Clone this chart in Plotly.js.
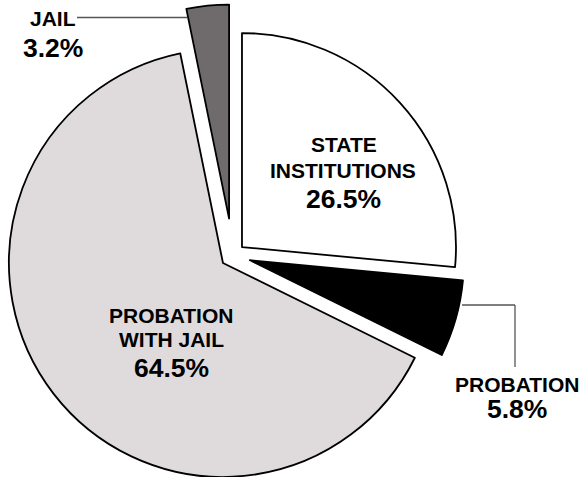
<!DOCTYPE html>
<html>
<head>
<meta charset="utf-8">
<script src="https://cdn.plot.ly/plotly-3.0.1.min.js"></script>
<style>
  html, body { margin: 0; padding: 0; overflow: hidden; background: #ffffff; width: 583px; height: 477px; }
  #chart { position: absolute; left: -20px; top: 0; width: 623px; height: 510px; }
</style>
</head>
<body>
<div id="chart"></div>
<script>
// ---- data ----
const categories = ["STATE INSTITUTIONS", "PROBATION", "PROBATION WITH JAIL", "JAIL"];
const shares = [26.5, 5.8, 64.5, 3.2];
const shareLabels = ["26.5%", "5.8%", "64.5%", "3.2%"];
const labelLines = [["STATE", "INSTITUTIONS"], ["PROBATION"], ["PROBATION", "WITH JAIL"], ["JAIL"]];
const sliceColors = ["#ffffff", "#000000", "#dfdbdc", "#6f6b6c"];
const pulls = [0.058, 0.083, 0.058, 0.173];

// ---- layout geometry (pixels in the plot div) ----
const OFFSET = 20;            // div is shifted left by this much
const W = 623, H = 510;
const CX = 232.8 + OFFSET, CY = 255.4, R = 214;
const maxPull = Math.max(...pulls);
const half = R * (1 + maxPull);
const px = x => (x + OFFSET) / W;
const py = y => 1 - y / H;

const FONT = "Liberation Sans, Arial, Helvetica, sans-serif";
const LABEL_SIZE = 21, PCT_SIZE = 26.5;

function ann(text, x, y, size) {
  return {
    text: "<b>" + text + "</b>", x: px(x), y: py(y), xref: "paper", yref: "paper",
    xanchor: "center", yanchor: "middle", showarrow: false,
    font: { family: FONT, size: size, color: "#000000" }
  };
}

const annotations = [
  ann(labelLines[0][0], 344, 144, LABEL_SIZE),
  ann(labelLines[0][1], 343, 170.5, LABEL_SIZE),
  ann(shareLabels[0], 343, 199.5, PCT_SIZE),
  ann(labelLines[2][0], 171, 315, LABEL_SIZE),
  ann(labelLines[2][1], 171, 339.5, LABEL_SIZE),
  ann(shareLabels[2], 171, 368, PCT_SIZE),
  ann(labelLines[1][0], 516.5, 384.5, LABEL_SIZE),
  ann(shareLabels[1], 517, 409, PCT_SIZE),
  ann(labelLines[3][0], 53, 19, LABEL_SIZE),
  ann(shareLabels[3], 52.5, 47.5, PCT_SIZE)
];

function seg(x0, y0, x1, y1) {
  return { type: "line", xref: "paper", yref: "paper",
    x0: px(x0), y0: py(y0), x1: px(x1), y1: py(y1),
    line: { color: "#555555", width: 1.3 } };
}
const shapes = [
  seg(77, 17.5, 187, 17.5),
  seg(462, 305, 515, 305),
  seg(515, 305, 515, 367)
];

const trace = {
  type: "pie",
  labels: categories,
  values: shares,
  sort: false,
  direction: "clockwise",
  rotation: 0,
  pull: pulls,
  textinfo: "none",
  hoverinfo: "label+percent",
  marker: { colors: sliceColors, line: { color: "#000000", width: 1.8 } },
  domain: {
    x: [(CX - half) / W, (CX + half) / W],
    y: [1 - (CY + half) / H, 1 - (CY - half) / H]
  },
  showlegend: false
};

const layout = {
  width: W, height: H,
  margin: { l: 0, r: 0, t: 0, b: 0, pad: 0 },
  paper_bgcolor: "#ffffff",
  plot_bgcolor: "#ffffff",
  showlegend: false,
  annotations: annotations,
  shapes: shapes
};

Plotly.newPlot("chart", [trace], layout, { displayModeBar: false, staticPlot: true });
</script>
</body>
</html>
